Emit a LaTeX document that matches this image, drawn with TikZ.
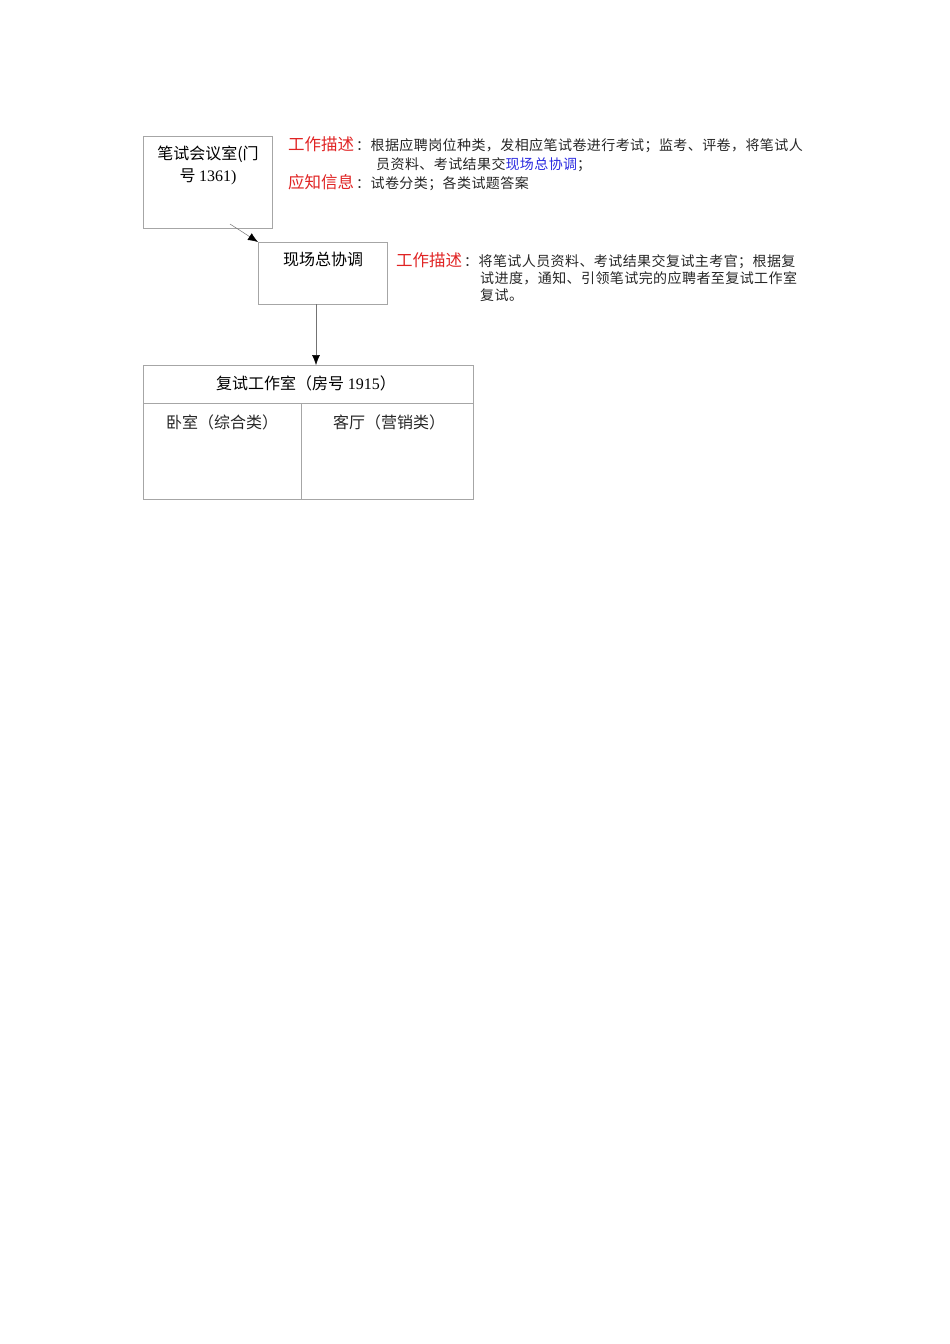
\documentclass[tikz,border=0pt]{standalone}
\usepackage{fontspec}
\setmainfont{Liberation Serif}
\newfontfamily\cjk{Noto Sans CJK SC}
\newfontfamily\cjkbody[LetterSpace=3]{Noto Sans CJK SC}
\usetikzlibrary{arrows.meta}
\definecolor{boxgray}{HTML}{A6A6A6}
\definecolor{tagred}{HTML}{E02424}
\definecolor{linkblue}{HTML}{2B2BE0}

\begin{document}
\begin{tikzpicture}
  [x=1pt,y=-1pt, every node/.style={inner sep=0pt},
   room/.style={draw=boxgray,line width=0.7pt,rectangle,anchor=north west},
   title/.style={font=\fontsize{16}{19}\selectfont\cjk,anchor=base},
   sub/.style={font=\fontsize{16}{19}\selectfont\cjk,text=black!85,anchor=base},
   tag/.style={font=\fontsize{16.5}{19}\selectfont\cjk,text=tagred,anchor=base west},
   body/.style={font=\fontsize{14}{17}\selectfont\cjkbody,text=black!85,anchor=base west},
   link/.style={draw=black!55,line width=0.5pt,-{Latex[color=black,length=10pt,width=8pt]}}]
  \useasboundingbox (0,0) rectangle (950,1344);

  % boxes
  \node[room,minimum width=129pt,minimum height=92pt] (room1) at (143,136) {};
  \node[room,minimum width=129pt,minimum height=62pt] (coord) at (258,242) {};
  \node[room,minimum width=330pt,minimum height=134pt] (room3) at (143,365) {};
  \draw[boxgray,line width=0.7pt] (143,403) -- (473,403);
  \draw[boxgray,line width=0.7pt] (301,403) -- (301,499);

  % box texts
  \node[title] (t1a) at (208,159) {笔试会议室(门};
  \node[title] (t1b) at (208,181) {{\cjk 号} {\rmfamily 1361)}};
  \node[title] (t2) at (323,265) {现场总协调};
  \node[title] (t3) at (306,389) {复试工作室（房号 {\rmfamily 1915}）};
  \node[sub] (bed) at (222,428) {卧室（综合类）};
  \node[sub] (hall) at (389,428) {客厅（营销类）};

  % notes beside room1
  \node[tag] (w1) at (288,150) {工作描述};
  \node[body] (w1a) at (356,150) {：根据应聘岗位种类，发相应笔试卷进行考试；监考、评卷，将笔试人};
  \node[body] (w1b) at (376,169) {员资料、考试结果交\textcolor{linkblue}{现场总协调}；};
  \node[tag] (k1) at (288,188) {应知信息};
  \node[body] (k1a) at (356,188) {：试卷分类；各类试题答案};

  % notes beside coord
  \node[tag] (w2) at (396,266) {工作描述};
  \node[body] (w2a) at (464,266) {：将笔试人员资料、考试结果交复试主考官；根据复};
  \node[body] (w2b) at (480,283) {试进度，通知、引领笔试完的应聘者至复试工作室};
  \node[body] (w2c) at (480,300) {复试。};

  % arrows
  \coordinate (s1) at (230,224);
  \coordinate (s2) at (316,304);
  \draw[link] (s1) -- (coord.north west);
  \draw[link] (s2) -- (s2 |- room3.north);
\end{tikzpicture}
\end{document}
